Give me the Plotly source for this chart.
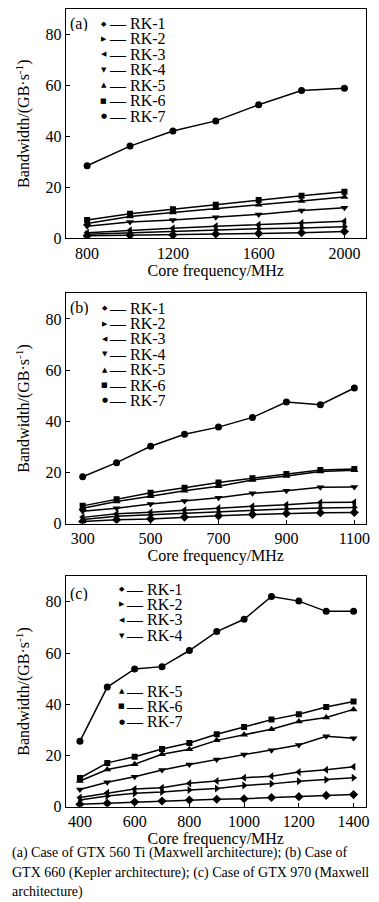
import plotly.graph_objects as go

W, H = 379, 902

# ---------------- data ----------------
series_names = ["RK-1", "RK-2", "RK-3", "RK-4", "RK-5", "RK-6", "RK-7"]

freq_a = [800, 1000, 1200, 1400, 1600, 1800, 2000]
bw_a = {
    "RK-1": [1.0, 1.2, 1.3, 1.7, 1.9, 2.2, 2.7],
    "RK-2": [1.6, 2.2, 2.8, 3.4, 3.8, 4.1, 4.6],
    "RK-3": [2.2, 3.2, 4.0, 4.8, 5.3, 6.0, 6.7],
    "RK-4": [4.8, 6.4, 7.2, 8.3, 9.4, 10.9, 12.0],
    "RK-5": [5.8, 8.6, 10.2, 11.8, 13.2, 14.7, 16.2],
    "RK-6": [7.2, 9.7, 11.4, 13.2, 15.1, 16.7, 18.3],
    "RK-7": [28.5, 36.2, 42.1, 46.1, 52.4, 58.0, 58.9],
}

freq_b = [300, 400, 500, 600, 700, 800, 900, 1000, 1100]
bw_b = {
    "RK-1": [0.8, 1.5, 1.8, 2.5, 3.0, 3.5, 3.9, 4.2, 4.3],
    "RK-2": [1.6, 2.8, 3.4, 4.0, 4.6, 5.2, 5.7, 6.1, 6.3],
    "RK-3": [2.4, 3.8, 4.4, 5.3, 6.0, 6.7, 7.3, 8.2, 8.3],
    "RK-4": [4.8, 6.0, 7.6, 8.8, 10.1, 11.8, 12.8, 14.2, 14.3],
    "RK-5": [6.0, 8.6, 10.7, 12.8, 14.6, 17.0, 18.6, 20.3, 20.8],
    "RK-6": [6.9, 9.5, 12.0, 14.0, 16.0, 17.7, 19.4, 20.9, 21.3],
    "RK-7": [18.3, 23.8, 30.2, 34.9, 37.7, 41.5, 47.5, 46.5, 53.0],
}

freq_c = [400, 500, 600, 700, 800, 900, 1000, 1100, 1200, 1300, 1400]
bw_c = {
    "RK-1": [0.9, 1.3, 1.8, 2.2, 2.6, 2.9, 3.1, 3.6, 3.9, 4.4, 4.7],
    "RK-2": [2.6, 4.2, 5.2, 5.7, 6.5, 7.1, 8.3, 8.9, 9.9, 10.5, 11.3],
    "RK-3": [3.6, 5.4, 6.9, 7.4, 9.1, 10.0, 11.3, 11.9, 13.5, 14.4, 15.6],
    "RK-4": [6.7, 9.5, 11.7, 14.3, 16.5, 18.4, 20.4, 22.0, 24.1, 27.5, 26.7],
    "RK-5": [10.0, 14.5, 16.6, 20.5, 22.4, 25.9, 28.1, 30.2, 33.3, 34.8, 38.0],
    "RK-6": [11.2, 17.1, 19.5, 22.5, 24.9, 28.3, 31.1, 34.0, 36.1, 38.9, 41.1],
    "RK-7": [25.5, 46.7, 53.8, 54.7, 61.0, 68.4, 73.2, 82.1, 80.3, 76.3, 76.3],
}

panel_labels = ["(a)", "(b)", "(c)"]
x_ticks_a = [800, 1200, 1600, 2000]
x_ticks_b = [300, 500, 700, 900, 1100]
x_ticks_c = [400, 600, 800, 1000, 1200, 1400]
y_ticks = [0, 20, 40, 60, 80]

caption_lines = [
    "(a) Case of GTX 560 Ti (Maxwell architecture); (b) Case of",
    "GTX 660 (Kepler architecture); (c) Case of GTX 970 (Maxwell",
    "architecture)",
]

# ---------------- styles ----------------
symbols = ["diamond", "triangle-right", "triangle-left", "triangle-down",
           "triangle-up", "square", "circle"]
glyphs = ["\u25c6", "\u25b6", "\u25c0", "\u25bc", "\u25b2", "\u25a0", "\u25cf"]
msizes = [7, 7, 7, 7, 7, 6, 7]
SERIF = "Liberation Serif, Times New Roman, serif"
FS = 16


def px(x):
    return x / W


def py(y):
    return 1 - y / H


panels = [
    dict(freq=freq_a, bw=bw_a, ticks=x_ticks_a, xr=[700, 2100], top=1, bottom=232.7,
         leg_mx=97, leg_tx=101, leg_rows=[15.7 + 15.6 * i for i in range(7)], lab_y=15.7),
    dict(freq=freq_b, bw=bw_b, ticks=x_ticks_b, xr=[250, 1134], top=288.3, bottom=520.7,
         leg_mx=98, leg_tx=101, leg_rows=[303.3 + 15.5 * i for i in range(7)], lab_y=302.5),
    dict(freq=freq_c, bw=bw_c, ticks=x_ticks_c, xr=[348, 1445], top=574, bottom=806.7,
         leg_mx=115, leg_tx=118, leg_rows=[587, 602.5, 618, 634, 690, 705.5, 721], lab_y=591),
]

fig = go.Figure()
annotations = []
layout_axes = {}

for k, p in enumerate(panels):
    sfx = "" if k == 0 else str(k + 1)
    for i, name in enumerate(series_names):
        fig.add_trace(go.Scatter(
            x=p["freq"], y=p["bw"][name], name=name, mode="lines+markers",
            line=dict(color="black", width=1.5),
            marker=dict(symbol=symbols[i], size=msizes[i], color="black"),
            xaxis="x" + sfx, yaxis="y" + sfx, showlegend=False,
        ))
    common = dict(showline=True, mirror=True, linecolor="black", linewidth=1,
                  ticks="inside", ticklen=4, tickcolor="black", tickwidth=1,
                  showgrid=False, zeroline=False,
                  tickfont=dict(family=SERIF, size=FS, color="black"))
    layout_axes["xaxis" + sfx] = dict(
        common, domain=[px(58.3), px(361.7)], range=p["xr"], tickvals=p["ticks"],
        anchor="y" + sfx,
        title=dict(text="Core frequency/MHz", font=dict(family=SERIF, size=FS, color="black"),
                   standoff=0))
    layout_axes["yaxis" + sfx] = dict(
        common, domain=[py(p["bottom"]), py(p["top"])], range=[0, 90], tickvals=y_ticks,
        anchor="x" + sfx,
        title=dict(text="Bandwidth/(GB\u00b7s<sup>-1</sup>)",
                   font=dict(family=SERIF, size=FS, color="black"), standoff=11))

    annotations.append(dict(text=panel_labels[k], x=px(62), y=py(p["lab_y"]), xref="paper",
                            yref="paper", xanchor="left", yanchor="middle", showarrow=False,
                            borderpad=0, height=15,
                            font=dict(family=SERIF, size=FS, color="black")))
    for i, name in enumerate(series_names):
        yy = py(p["leg_rows"][i])
        annotations.append(dict(text=glyphs[i], x=px(p["leg_mx"]), y=yy, xref="paper",
                                yref="paper", xanchor="center", yanchor="middle",
                                showarrow=False, borderpad=0,
                                font=dict(family="DejaVu Sans", size=7, color="black")))
        annotations.append(dict(text="\u2014 " + name, x=px(p["leg_tx"]), y=yy, xref="paper",
                                yref="paper", xanchor="left", yanchor="middle",
                                showarrow=False, borderpad=0, height=15, valign="middle",
                                font=dict(family=SERIF, size=FS, color="black")))

for j, line in enumerate(caption_lines):
    annotations.append(dict(text=line, x=px(3), y=py(854 + 19.4 * j), xref="paper",
                            yref="paper", xanchor="left", yanchor="middle", showarrow=False,
                            borderpad=0, font=dict(family=SERIF, size=14, color="black")))

fig.update_layout(
    width=W, height=H, margin=dict(l=0, r=0, t=0, b=0),
    paper_bgcolor="white", plot_bgcolor="white",
    annotations=annotations, showlegend=False,
    **layout_axes,
)

fig.write_html("out.html")
